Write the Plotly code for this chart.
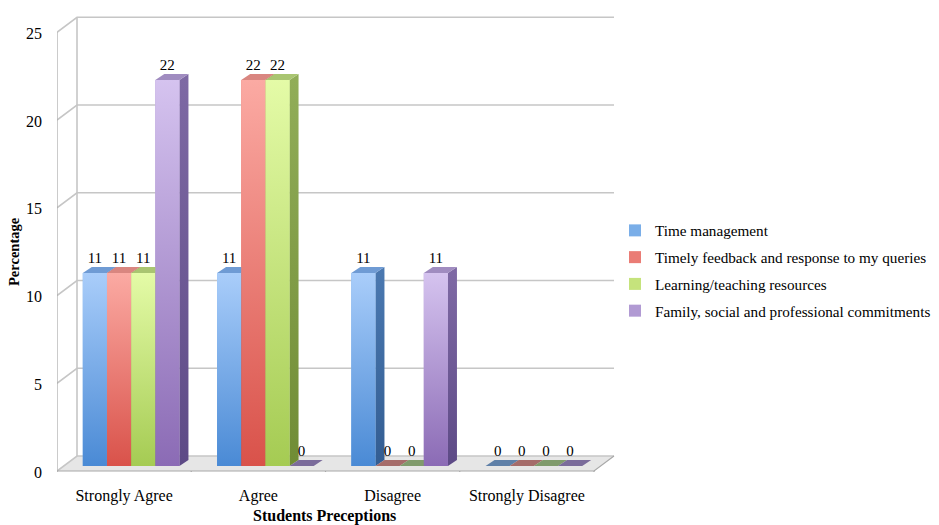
import plotly.graph_objects as go

# ---- data -----------------------------------------------------------------
categories = ["Strongly Agree", "Agree", "Disagree", "Strongly Disagree"]
series_names = [
    "Time management",
    "Timely feedback and response to my queries",
    "Learning/teaching resources",
    "Family, social and professional commitments",
]
time_management = [11, 11, 11, 0]
timely_feedback = [11, 22, 0, 0]
learning_resources = [11, 22, 0, 0]
family_commitments = [22, 0, 11, 0]
y_ticks = [0, 5, 10, 15, 20, 25]

series_values = [time_management, timely_feedback, learning_resources, family_commitments]

# ---- styling: (front light, front dark, top face, side light, side dark, legend)
palette = [
    ("#a9cdfa", "#4a8ad5", "#6f9bd4", "#4a78b0", "#335d92", "#7aaee8"),
    ("#fbaaa3", "#d9524a", "#d98680", "#b44d47", "#973530", "#ea7c75"),
    ("#e4fba7", "#a5cb53", "#a9c571", "#91ad58", "#708c35", "#c5e37c"),
    ("#d5c3ef", "#8b6bb5", "#a08cc0", "#7e69a4", "#5d4a86", "#b19ad3"),
]
zero_colors = ["#5f80a8", "#a56c6a", "#809b6c", "#7b6c9b"]

FONT = "Liberation Serif"
W, H = 939, 525

# plot area in pixels and the pixel frame of the bar plane
PL, PR, PT, PB = 57, 616, 14, 472
ORIGIN_X, ORIGIN_Y = 64, 466          # pixel of (category -0.5, value 0)
PX_CAT, PX_VAL = 134.25, 17.55        # pixels per category / per unit

x_range = [-0.5 - (ORIGIN_X - PL) / PX_CAT, -0.5 + (PR - ORIGIN_X) / PX_CAT]
y_range = [-(PB - ORIGIN_Y) / PX_VAL, (ORIGIN_Y - PT) / PX_VAL]


def ux(px):
    """Screen-pixel offset (right positive) to category units."""
    return px / PX_CAT


def uy(px):
    """Screen-pixel offset (down positive) to value units."""
    return -px / PX_VAL


# 3-D offsets in screen pixels: front axis plane, back wall, bar depth
FRONT = (-7, 5)
BACK = (13, -10)
DEPTH = (9, -6)

BAR_W = 0.18
n_series = len(series_values)

fig = go.Figure()

# legend / base bars
for i, (name, vals) in enumerate(zip(series_names, series_values)):
    fig.add_trace(go.Bar(
        x=list(range(len(categories))), y=vals, name=name, legendgroup=name,
        marker=dict(color=palette[i][5], line=dict(width=0)),
        hoverinfo="skip",
    ))

# 3-D faces, painted left to right so nearer faces cover hidden ones
ddx, ddy = ux(DEPTH[0]), uy(DEPTH[1])
for c in range(len(categories)):
    for i in range(n_series):
        v = series_values[i][c]
        xc = c + (i - (n_series - 1) / 2) * BAR_W
        xl, xr = xc - BAR_W / 2, xc + BAR_W / 2
        front_light, front_dark, top_col, side_light, side_dark, _ = palette[i]
        if v > 0:
            # side face
            fig.add_trace(go.Scatter(
                x=[xr, xr + ddx, xr + ddx, xr, xr],
                y=[0, ddy, v + ddy, v, 0],
                mode="lines", line=dict(width=0), fill="toself",
                fillgradient=dict(type="vertical", start=0, stop=v,
                                  colorscale=[[0, side_dark], [1, side_light]]),
                showlegend=False, hoverinfo="skip",
            ))
            # top face
            fig.add_trace(go.Scatter(
                x=[xl, xr, xr + ddx, xl + ddx, xl],
                y=[v, v, v + ddy, v + ddy, v],
                mode="lines", line=dict(width=0), fill="toself",
                fillcolor=top_col, showlegend=False, hoverinfo="skip",
            ))
            # front face
            fig.add_trace(go.Scatter(
                x=[xl, xr, xr, xl, xl],
                y=[0, 0, v, v, 0],
                mode="lines", line=dict(width=0), fill="toself",
                fillgradient=dict(type="vertical", start=0, stop=v,
                                  colorscale=[[0, front_dark], [1, front_light]]),
                showlegend=False, hoverinfo="skip",
            ))
        else:
            # flat bar lying on the floor
            fig.add_trace(go.Scatter(
                x=[xl, xr, xr + ddx, xl + ddx, xl],
                y=[0, 0, ddy, ddy, 0],
                mode="lines", line=dict(width=0), fill="toself",
                fillcolor=zero_colors[i], showlegend=False, hoverinfo="skip",
            ))

# value labels
for i, vals in enumerate(series_values):
    xs = [c + (i - (n_series - 1) / 2) * BAR_W for c in range(len(categories))]
    fig.add_trace(go.Scatter(
        x=xs, y=[v + ddy for v in vals], mode="text",
        text=[str(v) for v in vals], textposition="top center",
        textfont=dict(family=FONT, size=15, color="#000000"),
        showlegend=False, hoverinfo="skip",
    ))

# ---- chart frame: floor, back wall grid, front axes -------------------------
fx, fy = ux(FRONT[0]), uy(FRONT[1])
bx, by = ux(BACK[0]), uy(BACK[1])
x_lo, x_hi = -0.5, len(categories) - 0.5
grid_col = "#c6c6c6"
axis_col = "#a8a8a8"
shapes = []

# floor
shapes.append(dict(
    type="path", layer="below",
    path=f"M{x_lo + fx},{fy} L{x_hi + fx},{fy} L{x_hi + bx},{by} L{x_lo + bx},{by} Z",
    fillcolor="#e6e6e6", line=dict(width=0),
))
# back wall grid lines
for t in y_ticks:
    shapes.append(dict(
        type="path", layer="below",
        path=f"M{x_lo + fx},{t + fy} L{x_lo + bx},{t + by} L{x_hi + bx},{t + by}",
        line=dict(color=grid_col, width=1.6),
    ))
# back wall left edge
shapes.append(dict(
    type="line", layer="below", x0=x_lo + bx, x1=x_lo + bx,
    y0=by, y1=y_ticks[-1] + by, line=dict(color=grid_col, width=1.6),
))
# front value axis with ticks
shapes.append(dict(
    type="line", layer="below", x0=x_lo + fx, x1=x_lo + fx,
    y0=fy, y1=y_ticks[-1] + fy, line=dict(color=axis_col, width=1.2),
))
for t in y_ticks:
    shapes.append(dict(
        type="line", layer="below", x0=x_lo + fx - ux(5), x1=x_lo + fx,
        y0=t + fy, y1=t + fy, line=dict(color=axis_col, width=1.2),
    ))
# front category axis (floor edge) with ticks
shapes.append(dict(
    type="path", layer="below",
    path=f"M{x_lo + fx},{fy} L{x_hi + fx},{fy} L{x_hi + bx},{by}",
    line=dict(color=axis_col, width=1.2),
))
for k in range(len(categories) + 1):
    xb = x_lo + k + fx
    shapes.append(dict(
        type="line", layer="below", x0=xb, x1=xb,
        y0=fy, y1=fy + uy(5), line=dict(color=axis_col, width=1.2),
    ))


def paper_x(px):
    return (px - PL) / (PR - PL)


def paper_y(py):
    return (PB - py) / (PB - PT)


annotations = [
    dict(text="<b>Percentage</b>", textangle=-90, x=paper_x(14), y=paper_y(252),
         xref="paper", yref="paper", xanchor="center", yanchor="middle",
         showarrow=False, font=dict(family=FONT, size=14.5, color="#000000")),
    dict(text="<b>Students Preceptions</b>", x=paper_x(324), y=paper_y(516),
         xref="paper", yref="paper", xanchor="center", yanchor="middle",
         showarrow=False, font=dict(family=FONT, size=16, color="#000000")),
]

fig.update_layout(
    width=W, height=H,
    margin=dict(l=PL, r=W - PR, t=PT, b=H - PB, pad=0, autoexpand=False),
    paper_bgcolor="#ffffff", plot_bgcolor="rgba(0,0,0,0)",
    barmode="group", bargap=0.28, bargroupgap=0,
    font=dict(family=FONT, size=16, color="#000000"),
    showlegend=True,
    legend=dict(
        x=paper_x(615), y=paper_y(214), xanchor="left", yanchor="top",
        font=dict(family=FONT, size=15.2, color="#000000"),
        bgcolor="rgba(0,0,0,0)", tracegroupgap=4,
    ),
    shapes=shapes,
    annotations=annotations,
    xaxis=dict(
        range=x_range, tickmode="array", tickvals=list(range(len(categories))),
        ticktext=categories, showgrid=False, zeroline=False, showline=False,
        ticks="", ticklabelshift=-7, ticklabelstandoff=12,
        tickfont=dict(family=FONT, size=16, color="#000000"),
        fixedrange=True,
    ),
    yaxis=dict(
        range=y_range, tickmode="array", tickvals=y_ticks,
        showgrid=False, zeroline=False, showline=False,
        ticks="", ticklabelshift=6, ticklabelstandoff=14,
        tickfont=dict(family=FONT, size=16, color="#000000"),
        fixedrange=True,
    ),
)

fig.write_html("out.html")
